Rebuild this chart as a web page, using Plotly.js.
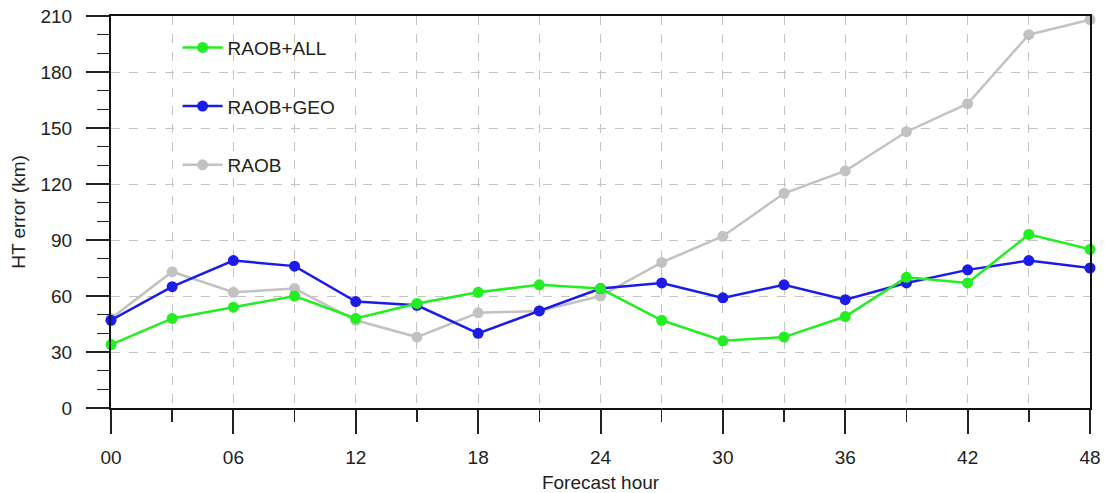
<!DOCTYPE html>
<html>
<head>
<meta charset="utf-8">
<script src="https://cdn.plot.ly/plotly-3.0.1.min.js"></script>
<style>html,body{margin:0;padding:0;background:#fff;}#chart{width:1105px;height:493px;}</style>
</head>
<body>
<div id="chart"></div>
<script>
const hours = [0,3,6,9,12,15,18,21,24,27,30,33,36,39,42,45,48];
const raobAll = [34,48,54,60,48,56,62,66,64,47,36,38,49,70,67,93,85];
const raobGeo = [47,65,79,76,57,55,40,52,64,67,59,66,58,67,74,79,75];
const raob    = [48,73,62,64,47,38,51,52,60,78,92,115,127,148,163,200,208];
const xTickVals = [0,6,12,18,24,30,36,42,48];
const xTickText = ["00","06","12","18","24","30","36","42","48"];
const yTickVals = [0,30,60,90,120,150,180,210];

const font = {family: "Liberation Sans, Arial, sans-serif", size: 19, color: "#222"};
function tr(name, y, color, group, rank) {
  return {x: hours, y: y, name: name, type: "scatter", mode: "lines+markers",
    legendgroup: group, legendrank: rank,
    line: {color: color, width: 2.5}, marker: {color: color, size: 11}, cliponaxis: false};
}
const data = [
  tr("RAOB", raob, "#c2c2c2", "c", 3),
  tr("RAOB+GEO", raobGeo, "#1c1ce8", "b", 2),
  tr("RAOB+ALL", raobAll, "#22ee22", "a", 1)
];
const axisCommon = {showline: true, linecolor: "#111", linewidth: 2, mirror: true,
  ticks: "outside", tickcolor: "#222", tickwidth: 2, zeroline: false,
  showgrid: true, gridcolor: "#c4c4c4", griddash: "dash", gridwidth: 1, tickfont: font};
const layout = {
  width: 1105, height: 493,
  margin: {l: 111, r: 15, t: 16, b: 85},
  paper_bgcolor: "#fff", plot_bgcolor: "#fff",
  font: font,
  showlegend: true,
  legend: {x: 0.068, y: 0.968, xanchor: "left", yanchor: "top", bgcolor: "rgba(0,0,0,0)",
    traceorder: "grouped", tracegroupgap: 31, font: font, itemwidth: 40},
  xaxis: Object.assign({}, axisCommon, {
    range: [0, 48], tickmode: "array", tickvals: xTickVals, ticktext: xTickText,
    ticklen: 24, ticklabelstandoff: 7,
    minor: {dtick: 3, tick0: 0, ticklen: 12, tickcolor: "#222", tickwidth: 1.5, showgrid: true,
      gridcolor: "#c4c4c4", griddash: "dash", gridwidth: 1},
    title: {text: "Forecast hour", font: font, standoff: 10}
  }),
  yaxis: Object.assign({}, axisCommon, {
    range: [0, 210], tickmode: "array", tickvals: yTickVals,
    ticklen: 23, ticklabelstandoff: 10,
    minor: {dtick: 10, tick0: 0, ticklen: 12, tickcolor: "#222", tickwidth: 1.5, showgrid: false},
    title: {text: "HT error (km)", font: font, standoff: 10}
  })
};
Plotly.newPlot("chart", data, layout, {displayModeBar: false, staticPlot: true});
</script>
</body>
</html>
